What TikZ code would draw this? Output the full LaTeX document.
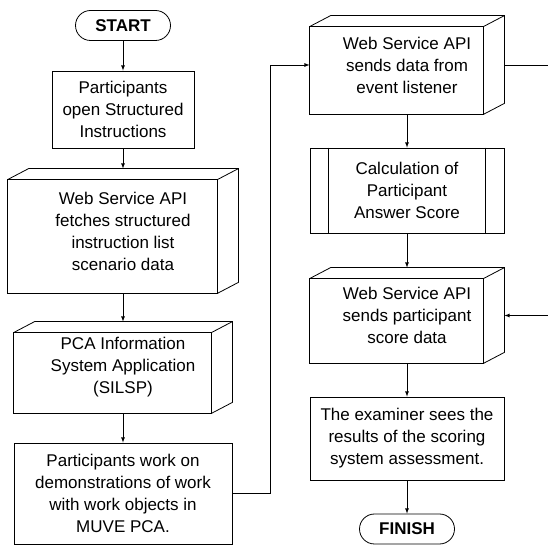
\documentclass[tikz,border=0pt]{standalone}
\usepackage{fontspec}
\setmainfont{Liberation Sans}
\usetikzlibrary{arrows}

\begin{document}
\begin{tikzpicture}[
      x=1pt,
      y=1pt,
      base/.style={
          draw,
          align=center,
          inner sep=2pt,
          font=\fontsize{17}{22}\selectfont
        },
      term/.style={
          base,
          rounded corners=15pt,
          minimum width=95pt,
          minimum height=30pt,
          font=\fontsize{17}{22}\selectfont\bfseries
        },
      proc/.style={
          base
        },
      cube/.style={
          base,
          draw=none
        },
      subproc/.style={
          base
        },
      line width=0.8pt,
      >=latex
    ]
    \useasboundingbox (0,0) rectangle (548,545);
    \clip (0,0) rectangle (548,545);
    \def\cubedx{21}
    \def\cubedy{11}
    % left column
    \node[term] (start) at (123,519.5) {START};
    \node[proc, minimum width=142pt, minimum height=77pt] (open) at (123,435.5) {Participants\\open Structured\\Instructions};
    \node[cube, minimum width=230pt, minimum height=124pt] (fetch) at (123,314) {Web Service API\\fetches structured\\instruction list\\scenario data};
    \node[cube, minimum width=218pt, minimum height=91pt] (pca) at (123,177.5) {PCA Information\\System Application\\(SILSP)};
    \node[proc, minimum width=218pt, minimum height=101pt] (work) at (123,51.5) {Participants work on\\demonstrations of work\\with work objects in\\MUVE PCA.};
    % right column
    \node[cube, minimum width=194pt, minimum height=98pt] (sends) at (407,480) {Web Service API\\sends data from\\event listener};
    \node[subproc, minimum width=194pt, minimum height=85pt] (calc) at (407,354.5) {Calculation of\\Participant\\Answer Score};
    \node[cube, minimum width=194pt, minimum height=95pt] (score) at (407,229.5) {Web Service API\\sends participant\\score data};
    \node[proc, minimum width=194pt, minimum height=83pt] (exam) at (407,106.5) {The examiner sees the\\results of the scoring\\system assessment.};
    \node[term] (finish) at (407,16) {FINISH};
    % 3D faces
    \foreach \n in {fetch,pca,sends,score}
      {\draw (\n.south west) rectangle ([shift={(-\cubedx,-\cubedy)}]\n.north east);
       \draw ([yshift=-\cubedy]\n.north west) -- ([xshift=\cubedx]\n.north west) -- (\n.north east)
         -- ([yshift=\cubedy]\n.south east) -- ([xshift=-\cubedx]\n.south east);
       \draw ([shift={(-\cubedx,-\cubedy)}]\n.north east) -- (\n.north east);
      }
    \draw ([xshift=19]calc.north west) -- ([xshift=19]calc.south west)
          ([xshift=-19]calc.north east) -- ([xshift=-19]calc.south east);
    % connectors
    \draw[->] (start) -- (open);
    \draw[->] (open) -- (fetch);
    \draw[->] (fetch) -- (pca);
    \draw[->] (pca) -- (work);
    \draw[->] (work.east) -- ++(38,0) |- (sends.west);
    \draw[->] (sends) -- (calc);
    \draw[->] (calc) -- (score);
    \draw[->] (score) -- (exam);
    \draw[->] (exam) -- (finish);
    \draw[->] (sends.east) -- ++(60,0) |- (score.east);
  \end{tikzpicture}
\end{document}
